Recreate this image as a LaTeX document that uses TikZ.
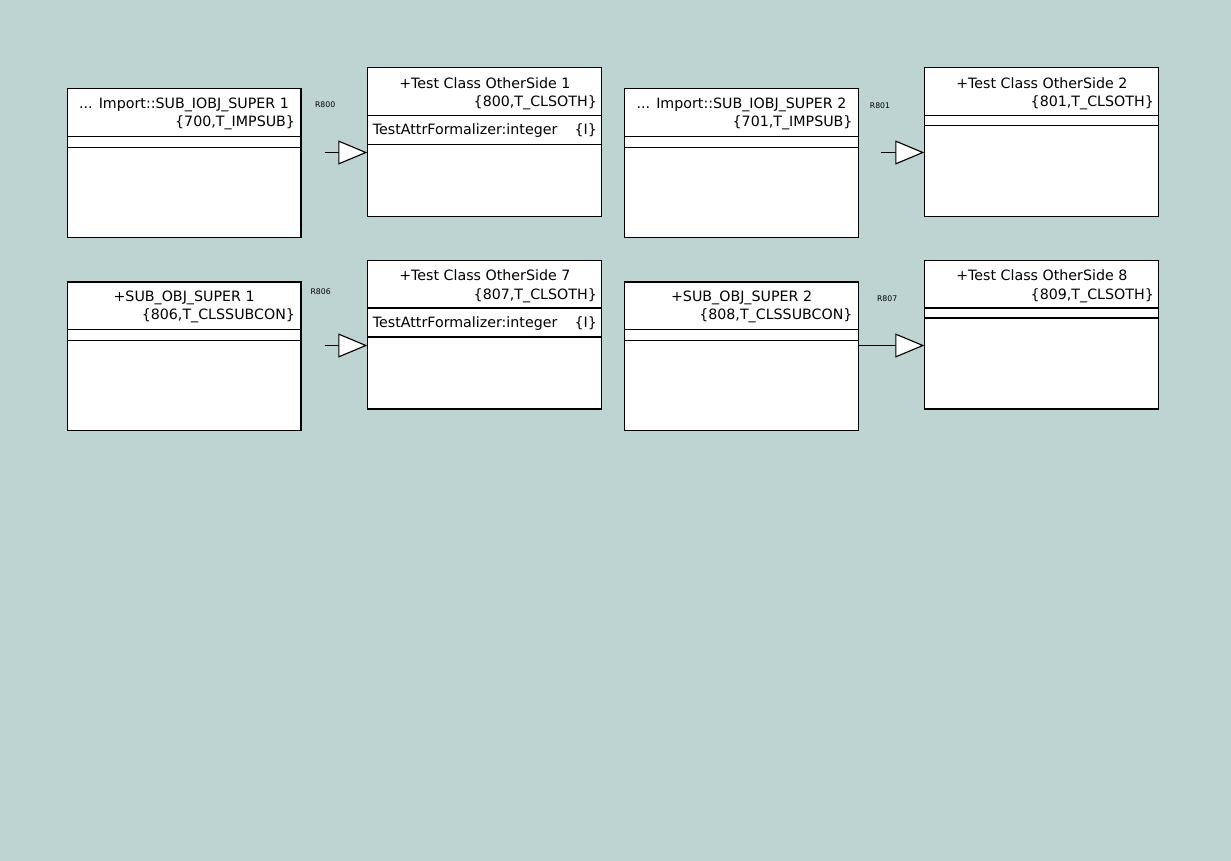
\documentclass[tikz,border=0pt]{standalone}
\usepackage{fontspec}
\setmainfont{DejaVu Sans}
\usetikzlibrary{arrows.meta, positioning, calc}
\definecolor{bgcol}{RGB}{190,212,211}

\begin{document}
\begin{tikzpicture}[x=0.02cm, y=-0.02cm, line width=0.65pt,
    cls/.style={draw, fill=white, anchor=north west, inner sep=0pt, minimum width=4.68cm, minimum height=2.97cm},
    txt/.style={inner sep=0pt, font=\fontsize{8.1}{9}\selectfont},
    rlab/.style={inner sep=0pt, anchor=base west, font=\fontsize{4.4}{5}\selectfont},
    gen/.style={-{Triangle[open, fill=white, length=0.58cm, width=0.48cm]}}]

\fill[bgcol] (0,0) rectangle (1231,861);
\useasboundingbox (0,0) rectangle (1231,861);

% first row
\node[cls] (imp1) at (66.5,88.3) {};
\draw (imp1.north west) ++(0,48) -- ++(234,0);
\draw (imp1.north west) ++(0,59) -- ++(234,0);
\node[txt, anchor=base] at ($(imp1.north)+(0,20)$) {... Import::SUB\_IOBJ\_SUPER 1};
\node[txt, anchor=base east] at ($(imp1.north east)+(-6,38.5)$) {\{700,T\_IMPSUB\}};

\node[cls] (oth1) at (367.3,67.3) {};
\draw (oth1.north west) ++(0,48) -- ++(234,0);
\draw (oth1.north west) ++(0,77) -- ++(234,0);
\node[txt, anchor=base] at ($(oth1.north)+(0,21)$) {+Test Class OtherSide 1};
\node[txt, anchor=base east] at ($(oth1.north east)+(-5,39.5)$) {\{800,T\_CLSOTH\}};
\node[txt, anchor=base west] at ($(oth1.north west)+(5,67.5)$) {TestAttrFormalizer:integer};
\node[txt, anchor=base east] at ($(oth1.north east)+(-5,67.5)$) {\{I\}};

\node[cls] (imp2) at (624,88.3) {};
\draw (imp2.north west) ++(0,48) -- ++(234,0);
\draw (imp2.north west) ++(0,59) -- ++(234,0);
\node[txt, anchor=base] at ($(imp2.north)+(0,20)$) {... Import::SUB\_IOBJ\_SUPER 2};
\node[txt, anchor=base east] at ($(imp2.north east)+(-6,38.5)$) {\{701,T\_IMPSUB\}};

\node[cls] (oth2) at (924.3,67.3) {};
\draw (oth2.north west) ++(0,48) -- ++(234,0);
\draw (oth2.north west) ++(0,58) -- ++(234,0);
\node[txt, anchor=base] at ($(oth2.north)+(0,21)$) {+Test Class OtherSide 2};
\node[txt, anchor=base east] at ($(oth2.north east)+(-5,39.5)$) {\{801,T\_CLSOTH\}};

% second row
\node[cls] (sub1) at (66.5,281.5) {};
\draw (sub1.north west) ++(0,48) -- ++(234,0);
\draw (sub1.north west) ++(0,59) -- ++(234,0);
\node[txt, anchor=base] at ($(sub1.north)+(0,20)$) {+SUB\_OBJ\_SUPER 1};
\node[txt, anchor=base east] at ($(sub1.north east)+(-6,38.5)$) {\{806,T\_CLSSUBCON\}};

\node[cls] (oth7) at (367.3,260) {};
\draw (oth7.north west) ++(0,48) -- ++(234,0);
\draw (oth7.north west) ++(0,77) -- ++(234,0);
\node[txt, anchor=base] at ($(oth7.north)+(0,21)$) {+Test Class OtherSide 7};
\node[txt, anchor=base east] at ($(oth7.north east)+(-5,39.5)$) {\{807,T\_CLSOTH\}};
\node[txt, anchor=base west] at ($(oth7.north west)+(5,67.5)$) {TestAttrFormalizer:integer};
\node[txt, anchor=base east] at ($(oth7.north east)+(-5,67.5)$) {\{I\}};

\node[cls] (sub2) at (624,281.5) {};
\draw (sub2.north west) ++(0,48) -- ++(234,0);
\draw (sub2.north west) ++(0,59) -- ++(234,0);
\node[txt, anchor=base] at ($(sub2.north)+(0,20)$) {+SUB\_OBJ\_SUPER 2};
\node[txt, anchor=base east] at ($(sub2.north east)+(-6,38.5)$) {\{808,T\_CLSSUBCON\}};

\node[cls] (oth8) at (924.3,260) {};
\draw (oth8.north west) ++(0,48) -- ++(234,0);
\draw (oth8.north west) ++(0,58) -- ++(234,0);
\node[txt, anchor=base] at ($(oth8.north)+(0,21)$) {+Test Class OtherSide 8};
\node[txt, anchor=base east] at ($(oth8.north east)+(-5,39.5)$) {\{809,T\_CLSOTH\}};

% generalisations
\coordinate (r800) at (324.5,152.5);
\coordinate (r801) at (881,152.5);
\coordinate (r806) at (324.5,345.5);
\coordinate (r807) at (sub2.east |- 0,345.5);

\draw[gen] (r800) -- (r800 -| oth1.west);
\draw[gen] (r801) -- (r801 -| oth2.west);
\draw[gen] (r806) -- (r806 -| oth7.west);
\draw[gen] (r807) -- (r807 -| oth8.west);

\node[rlab] (l800) at (314.5,107.3) {R800};
\node[rlab] (l801) at (869.3,108.3) {R801};
\node[rlab] (l806) at (310,295) {R806};
\node[rlab] (l807) at (876.5,301.7) {R807};

\end{tikzpicture}
\end{document}
